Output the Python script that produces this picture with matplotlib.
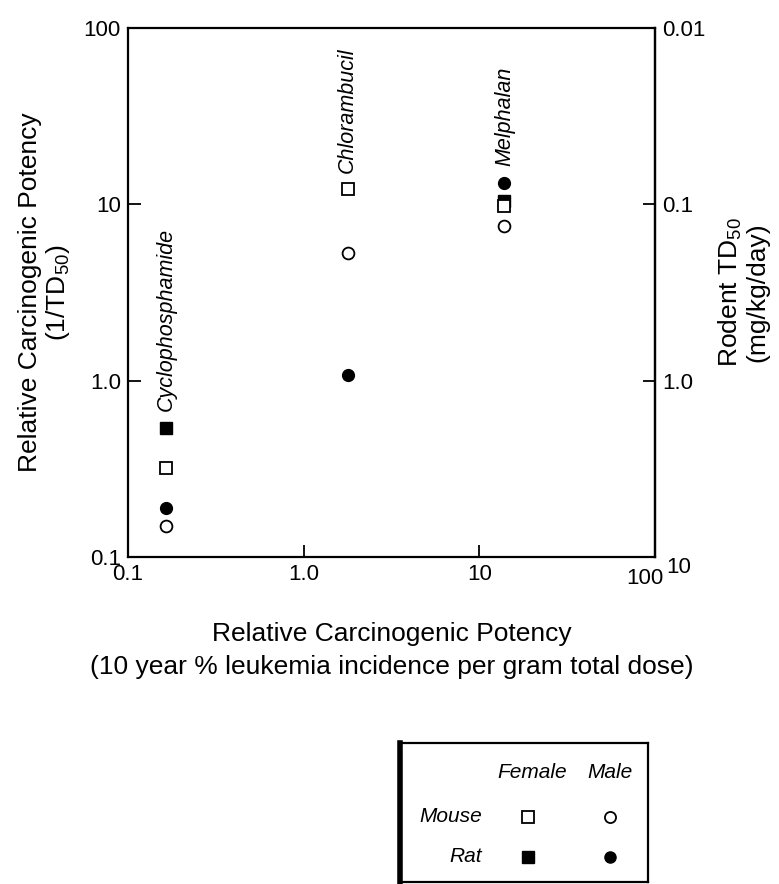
import numpy as np
import matplotlib
matplotlib.use('Agg')
import matplotlib.pyplot as plt
from matplotlib.transforms import ScaledTranslation

plt.rcParams['font.family'] = ['Liberation Sans', 'DejaVu Sans']
plt.rcParams['mathtext.fontset'] = 'custom'
plt.rcParams['mathtext.rm'] = 'Liberation Sans'
plt.rcParams['mathtext.it'] = 'Liberation Sans:italic'

# Data
drugs = ['Cyclophosphamide', 'Chlorambucil', 'Melphalan']
human_potency = [0.165, 1.78, 13.9]
mouse_female = [0.32, 12.2, 9.8]
mouse_male = [0.15, 5.3, 7.6]
rat_female = [0.54, np.nan, 10.5]
rat_male = [0.19, 1.08, 13.3]

tick_vals = [0.1, 1, 10, 100]
tick_labels = ['0.1', '1.0', '10', '100']
td50_vals = [0.01, 0.1, 1, 10]
td50_labels = ['0.01', '0.1', '1.0', '10']

fig = plt.figure(figsize=(7.79, 8.84), dpi=100)
ax = fig.add_axes([0.164, 0.370, 0.677, 0.598])

ms = 8.5
ax.plot(human_potency, rat_female, 's', color='black', ms=ms, ls='none')
ax.plot(human_potency, mouse_female, 's', mfc='white', mec='black', mew=1.3, ms=ms, ls='none')
ax.plot(human_potency, rat_male, 'o', color='black', ms=ms, ls='none')
ax.plot(human_potency, mouse_male, 'o', mfc='white', mec='black', mew=1.3, ms=ms, ls='none')

# drug names above the highest point of each group
for i, name in enumerate(drugs):
    top = np.nanmax([mouse_female[i], mouse_male[i], rat_female[i], rat_male[i]])
    ax.annotate(name, (human_potency[i], top), xytext=(0, 12), textcoords='offset points',
                rotation=90, ha='center', va='bottom', fontsize=15.5, style='italic')

ax.set_xscale('log')
ax.set_yscale('log')
ax.set_xlim(0.1, 100)
ax.set_ylim(0.1, 100)
ax.set_xticks(tick_vals)
ax.set_xticklabels(tick_labels)
ax.set_yticks(tick_vals)
ax.set_yticklabels(tick_labels)
ax.minorticks_off()
ax.tick_params(direction='in', length=9, width=1.3, labelsize=16, pad=5)
for s in ax.spines.values():
    s.set_linewidth(1.6)

ax.set_xlabel('Relative Carcinogenic Potency\n(10 year % leukemia incidence per gram total dose)',
              fontsize=19, labelpad=24, linespacing=1.45)
ax.set_ylabel('Relative Carcinogenic Potency\n(1/TD$_{50}$)', fontsize=19, labelpad=8, linespacing=1.1)

sec = ax.secondary_yaxis('right', functions=(lambda v: 1 / v, lambda v: 1 / v))
sec.set_yticks(td50_vals)
sec.set_yticklabels(td50_labels)
sec.minorticks_off()
sec.tick_params(direction='in', length=9, width=1.3, labelsize=16, pad=5)
sec.spines['right'].set_linewidth(1.6)
sec.set_ylabel('Rodent TD$_{50}$\n(mg/kg/day)', fontsize=19, labelpad=8, linespacing=1.1)

# nudge the corner labels apart as in the original
fig.canvas.draw()
lbl = ax.get_xticklabels()[-1]
lbl.set_transform(lbl.get_transform() + ScaledTranslation(-10 / 100, -4 / 100, fig.dpi_scale_trans))
lbl = sec.get_yticklabels()[-1]
lbl.set_transform(lbl.get_transform() + ScaledTranslation(4 / 100, -8 / 100, fig.dpi_scale_trans))

# key box
lg = fig.add_axes([0.5135, 0.0025, 0.318, 0.157])
lg.set_xlim(0, 1)
lg.set_ylim(0, 1)
lg.set_xticks([])
lg.set_yticks([])
for s in lg.spines.values():
    s.set_linewidth(1.6)
lg.spines['left'].set_linewidth(4)
lg.text(0.532, 0.784, 'Female', ha='center', va='center', fontsize=15, style='italic')
lg.text(0.847, 0.784, 'Male', ha='center', va='center', fontsize=15, style='italic')
lg.text(0.331, 0.468, 'Mouse', ha='right', va='center', fontsize=15, style='italic')
lg.text(0.331, 0.18, 'Rat', ha='right', va='center', fontsize=15, style='italic')
lg.plot([0.516], [0.468], 's', mfc='white', mec='black', mew=1.3, ms=8)
lg.plot([0.847], [0.468], 'o', mfc='white', mec='black', mew=1.3, ms=8)
lg.plot([0.516], [0.18], 's', color='black', ms=8)
lg.plot([0.847], [0.18], 'o', color='black', ms=8)

fig.savefig('out.png', dpi=100)
